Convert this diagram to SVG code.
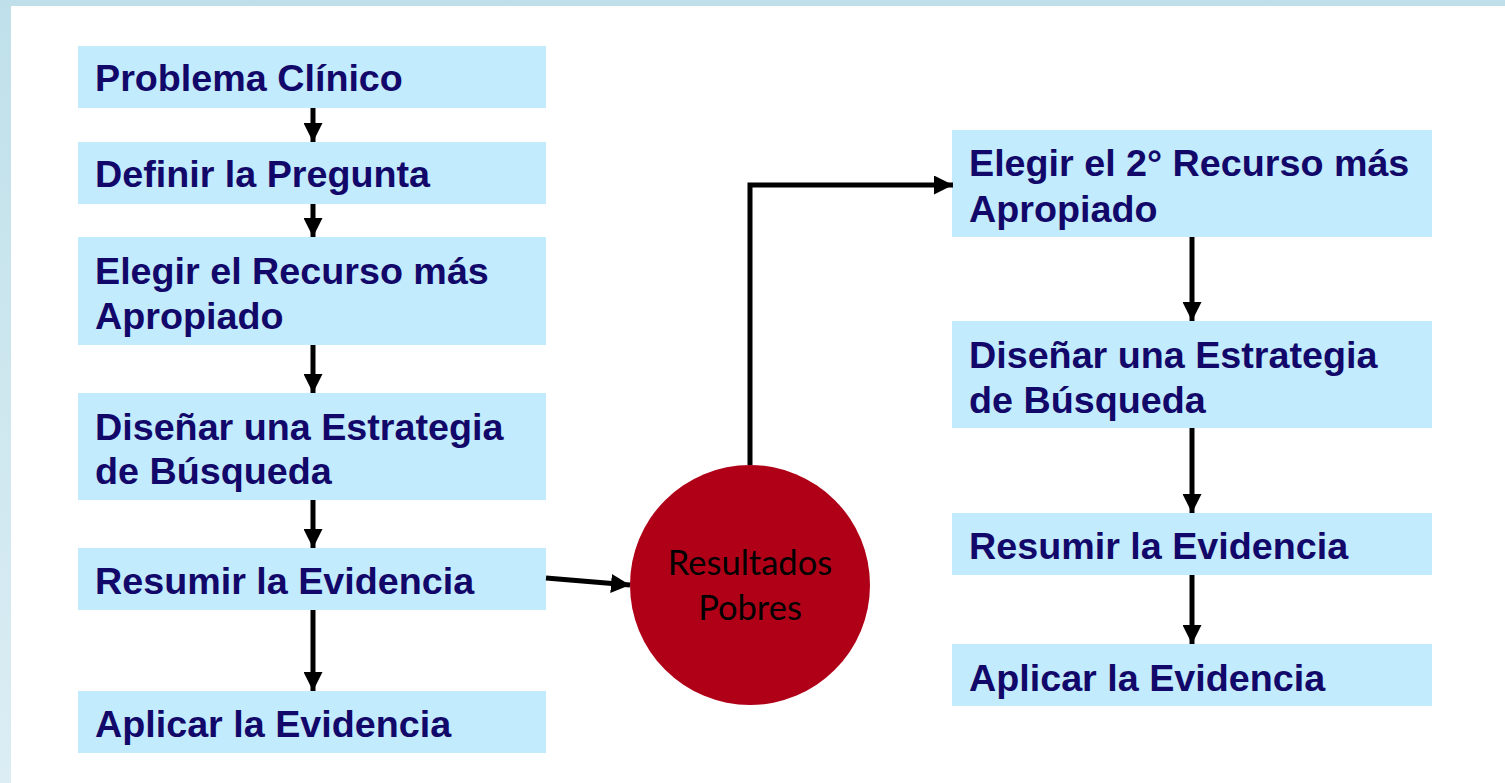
<svg xmlns="http://www.w3.org/2000/svg" width="1505" height="783" viewBox="0 0 1505 783">
<defs>
<linearGradient id="bg" x1="0" y1="0" x2="0" y2="1">
<stop offset="0" stop-color="#bfe0ea"/>
<stop offset="1" stop-color="#dcedf4"/>
</linearGradient>
<marker id="ah" markerWidth="3.8" markerHeight="3.8" refX="3.8" refY="1.9" orient="auto" markerUnits="strokeWidth">
<path d="M0,0 L3.8,1.9 L0,3.8 Z" fill="#000"/>
</marker>
<style>
.box{fill:#c2ebfd}
.t{font-family:"Liberation Sans",Arial,sans-serif;font-weight:bold;font-size:37.7px;fill:#12086a}
.c{font-family:Lato,"Open Sans",sans-serif;font-size:34.5px;fill:#000;text-anchor:middle}
.ln{stroke:#000;stroke-width:5;fill:none;marker-end:url(#ah)}
</style>
</defs>
<rect x="0" y="0" width="1505" height="783" fill="url(#bg)"/>
<rect x="11" y="6" width="1494" height="777" fill="#fff"/>
<g id="n1"><rect class="box" x="78" y="46" width="468" height="62"/><text class="t" x="95" y="91">Problema Clínico</text></g>
<g id="n2"><rect class="box" x="78" y="142" width="468" height="62"/><text class="t" x="95" y="187">Definir la Pregunta</text></g>
<g id="n3"><rect class="box" x="78" y="237" width="468" height="108"/><text class="t" x="95" y="284">Elegir el Recurso más</text><text class="t" x="95" y="329">Apropiado</text></g>
<g id="n4"><rect class="box" x="78" y="393" width="468" height="107"/><text class="t" x="95" y="440">Diseñar una Estrategia</text><text class="t" x="95" y="484">de Búsqueda</text></g>
<g id="n5"><rect class="box" x="78" y="548" width="468" height="62"/><text class="t" x="95" y="594">Resumir la Evidencia</text></g>
<g id="n6"><rect class="box" x="78" y="691" width="468" height="62"/><text class="t" x="95" y="737">Aplicar la Evidencia</text></g>
<g id="n7"><circle cx="750" cy="585" r="120" fill="#b00018"/><text class="c" x="750" y="575">Resultados</text><text class="c" x="750" y="620">Pobres</text></g>
<g id="n8"><rect class="box" x="952" y="130" width="480" height="107"/><text class="t" x="969" y="176">Elegir el 2° Recurso más</text><text class="t" x="969" y="222">Apropiado</text></g>
<g id="n9"><rect class="box" x="952" y="321" width="480" height="107"/><text class="t" x="969" y="368">Diseñar una Estrategia</text><text class="t" x="969" y="413">de Búsqueda</text></g>
<g id="n10"><rect class="box" x="952" y="513" width="480" height="62"/><text class="t" x="969" y="559">Resumir la Evidencia</text></g>
<g id="n11"><rect class="box" x="952" y="644" width="480" height="62"/><text class="t" x="969" y="691">Aplicar la Evidencia</text></g>
<g id="connectors">
<line class="ln" x1="313" y1="108" x2="313" y2="142"/>
<line class="ln" x1="313" y1="204" x2="313" y2="237"/>
<line class="ln" x1="313" y1="345" x2="313" y2="393"/>
<line class="ln" x1="313" y1="500" x2="313" y2="548"/>
<line class="ln" x1="313" y1="610" x2="313" y2="691"/>
<line class="ln" x1="546" y1="578" x2="630" y2="585"/>
<path class="ln" d="M750,465 V185 H953"/>
<line class="ln" x1="1192" y1="237" x2="1192" y2="321"/>
<line class="ln" x1="1192" y1="428" x2="1192" y2="513"/>
<line class="ln" x1="1192" y1="575" x2="1192" y2="644"/>
</g>
</svg>
